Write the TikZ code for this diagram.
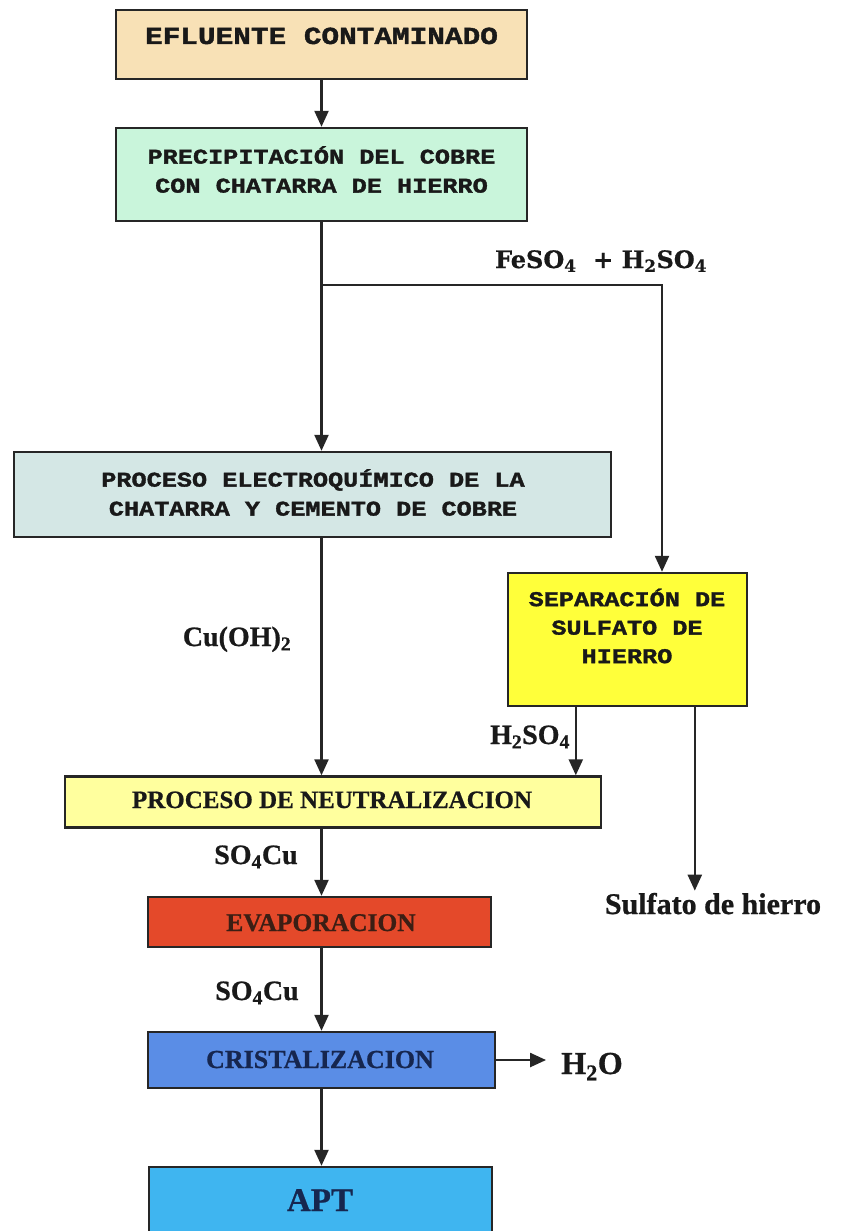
\documentclass[tikz,border=0pt]{standalone}
\usepackage{fontspec}
\setmainfont{Liberation Serif}[BoldFeatures={FakeBold=0.8}]
\newfontfamily\slabmono[FakeStretch=1.2, BoldFeatures={FakeBold=1.6}]{Liberation Mono}
\newfontfamily\wideserif[BoldFeatures={FakeBold=0.6}]{DejaVu Serif}
\usetikzlibrary{arrows.meta}

\definecolor{efluc}{HTML}{F8E1B6}
\definecolor{precc}{HTML}{C9F5DB}
\definecolor{elecc}{HTML}{D4E7E5}
\definecolor{sepc}{HTML}{FFFF3A}
\definecolor{neutc}{HTML}{FFFF9E}
\definecolor{evapc}{HTML}{E4492A}
\definecolor{cristc}{HTML}{5A8DE6}
\definecolor{aptc}{HTML}{3FB5F0}
\definecolor{linec}{HTML}{262626}
\definecolor{evaptext}{HTML}{3B1E14}
\definecolor{navytext}{HTML}{16264F}

\tikzset{
  procbox/.style={draw=linec, line width=2.4pt, inner sep=0pt, rectangle},
  monotext/.style={inner sep=0pt, align=center, text=black!90,
    font=\slabmono\bfseries\fontsize{21}{29}\selectfont},
  serifbold/.style={inner sep=0pt, text=black!90, font=\bfseries\fontsize{28}{32}\selectfont},
  wire/.style={draw=linec, line width=2.3pt},
  flow/.style={wire, -{Triangle[width=14pt,length=16pt]}},
}

\begin{document}
\begin{tikzpicture}[x=1pt,y=-1pt]
\useasboundingbox (0,0) rectangle (843,1231);

% process boxes
\node[procbox, fill=efluc, minimum width=411pt, minimum height=69pt] (efl) at (321.5,44.5) {};
\node[procbox, fill=precc, minimum width=411pt, minimum height=93pt] (prec) at (321.5,174.5) {};
\node[procbox, fill=elecc, minimum width=597pt, minimum height=85pt] (elec) at (312.5,494.5) {};
\node[procbox, fill=sepc, minimum width=239pt, minimum height=133pt] (sep) at (627.5,639.5) {};
\node[procbox, fill=neutc, minimum width=536pt, minimum height=51pt] (neut) at (333,802) {};
\node[procbox, fill=evapc, minimum width=343pt, minimum height=50pt] (evap) at (319.5,922) {};
\node[procbox, fill=cristc, minimum width=347pt, minimum height=56pt] (crist) at (321.5,1060) {};
\node[procbox, fill=aptc, minimum width=343pt, minimum height=68pt] (apt) at (320.5,1201) {};

% box captions
\node[monotext, font=\slabmono\bfseries\fontsize{24.5}{29}\selectfont, anchor=base] (eflt) at (321.5,44) {EFLUENTE CONTAMINADO};
\node[monotext] (prect) at (321.5,169.5) {PRECIPITACIÓN DEL COBRE\\CON CHATARRA DE HIERRO};
\node[monotext] (elect) at (313,492.5) {PROCESO ELECTROQUÍMICO DE LA\\CHATARRA Y CEMENTO DE COBRE};
\node[monotext, font=\slabmono\bfseries\fontsize{21}{28.5}\selectfont] (sept) at (627,626) {SEPARACIÓN DE\\SULFATO DE\\HIERRO};
\node[serifbold, font=\bfseries\fontsize{25}{30}\selectfont, anchor=base] (neutt) at (332,808) {PROCESO DE NEUTRALIZACION};
\node[serifbold, font=\bfseries\fontsize{25.5}{30}\selectfont, text=evaptext, anchor=base] (evapt) at (321,931) {EVAPORACION};
\node[serifbold, font=\bfseries\fontsize{26}{30}\selectfont, text=navytext, anchor=base] (cristt) at (320,1068) {CRISTALIZACION};
\node[serifbold, font=\bfseries\fontsize{33}{36}\selectfont, text=navytext, anchor=base] (aptt) at (320,1211) {APT};

% stream labels
\node[inner sep=0pt, text=black!90, font=\wideserif\bfseries\fontsize{24}{28}\selectfont, anchor=base] (feso) at (601,268) {FeSO\textsubscript{4}\ \ + H\textsubscript{2}SO\textsubscript{4}};
\node[serifbold, anchor=base] (cuoh) at (237,646) {Cu(OH)\textsubscript{2}};
\node[serifbold, anchor=base] (acid) at (530,744) {H\textsubscript{2}SO\textsubscript{4}};
\node[serifbold, anchor=base] (soa) at (256,864) {SO\textsubscript{4}Cu};
\node[serifbold, anchor=base] (sob) at (257,1000) {SO\textsubscript{4}Cu};
\node[serifbold, font=\bfseries\fontsize{30}{34}\selectfont, anchor=base, inner sep=2pt] (sulf) at (713,914) {Sulfato de hierro};
\node[serifbold, font=\bfseries\fontsize{32}{36}\selectfont, anchor=base] (water) at (592,1074) {H\textsubscript{2}O};

% connectors
\coordinate (split) at (321.5,285);
\coordinate (turn) at (662,285);
\path (sep.south west) ++(69,0) coordinate (acidtop);
\path (sep.south west) ++(188,0) coordinate (sulftop);

\draw[flow] (efl.south) -- (prec.north);
\draw[wire] (prec.south) -- (split);
\draw[flow] (split) -- (split |- elec.north);
\draw[flow] (split) -- (turn) -- (turn |- sep.north);
\draw[flow] (split |- elec.south) -- (split |- neut.north);
\draw[flow] (acidtop) -- (acidtop |- neut.north);
\draw[flow] (sulftop) -- (sulftop |- sulf.north);
\draw[flow] (split |- neut.south) -- (split |- evap.north);
\draw[flow] (split |- evap.south) -- (split |- crist.north);
\draw[flow, shorten >=15pt] (crist.east) -- (crist.east -| water.west);
\draw[flow] (split |- crist.south) -- (split |- apt.north);
\end{tikzpicture}
\end{document}
